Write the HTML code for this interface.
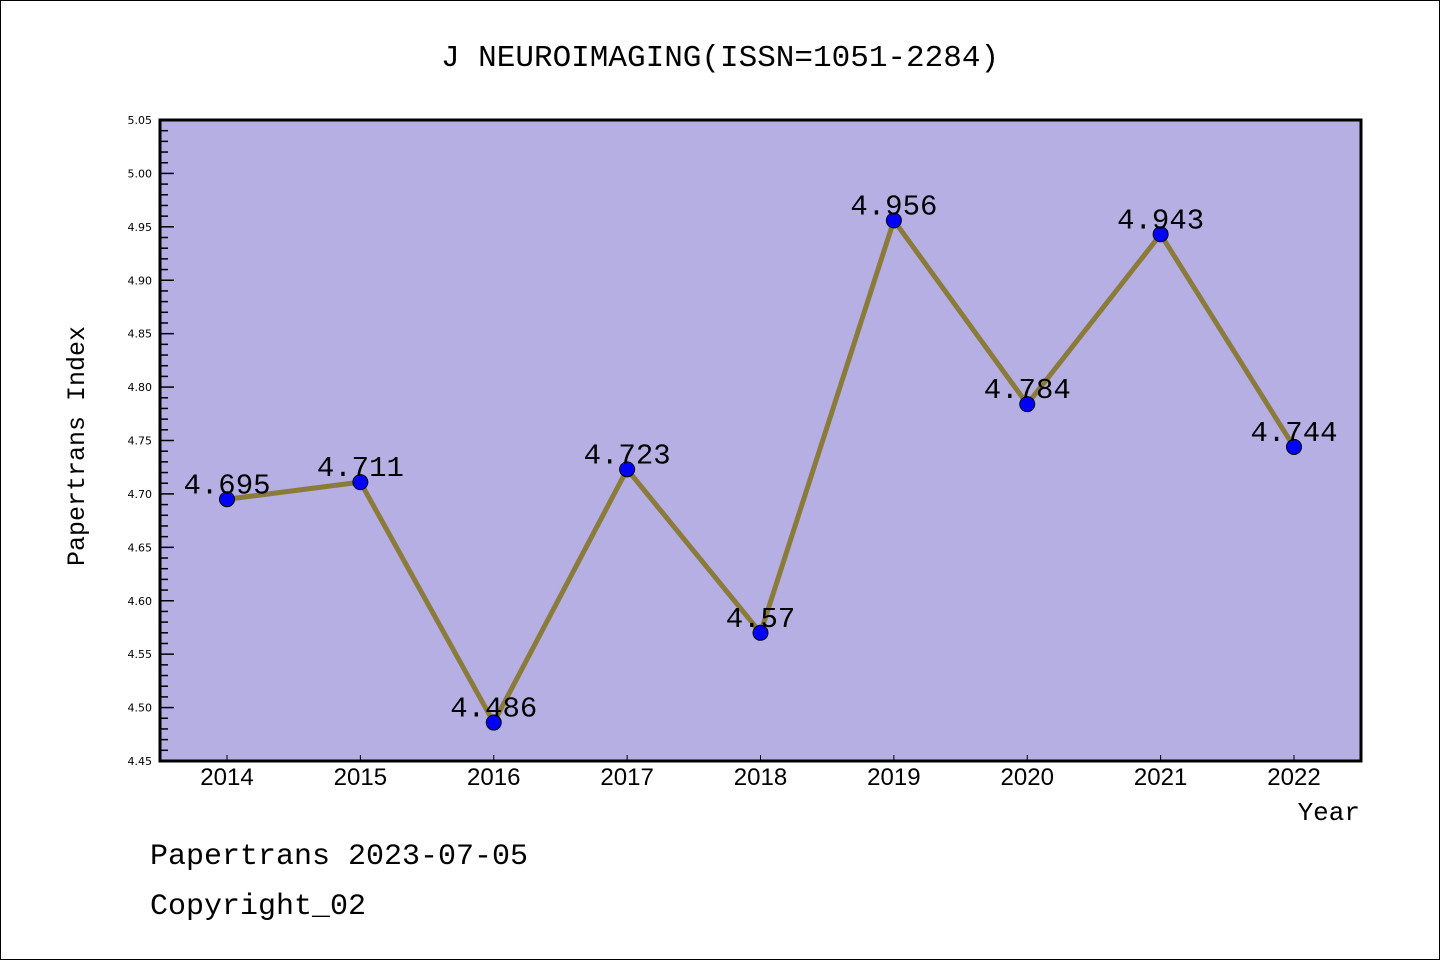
<!DOCTYPE html>
<html><head><meta charset="utf-8"><style>
html,body{margin:0;padding:0;background:#fff;}
svg{display:block;font-family:"Liberation Mono","DejaVu Sans Mono",monospace;}
</style></head><body>
<svg id="chart" width="1440" height="960" viewBox="0 0 1440 960" xmlns="http://www.w3.org/2000/svg">
<rect x="0.5" y="0.5" width="1439" height="959" fill="#fff" stroke="#000"/>
<text x="720" y="66" text-anchor="middle" font-size="31">J NEUROIMAGING(ISSN=1051-2284)</text>
<rect x="160" y="120" width="1201" height="641" fill="#B5AFE3"/>
<g id="axes"></g>
<g id="series"></g>
<rect x="160" y="120" width="1201" height="641" fill="none" stroke="#000" stroke-width="3"/>
<text transform="translate(84,446) rotate(-90)" text-anchor="middle" font-size="25">Papertrans Index</text>
<text x="1360" y="820" text-anchor="end" font-size="26">Year</text>
<text x="150" y="864" font-size="30">Papertrans 2023-07-05</text>
<text x="150" y="914" font-size="30">Copyright_02</text>
</svg>
<script>
const years = ["2014","2015","2016","2017","2018","2019","2020","2021","2022"];
const values = [4.695, 4.711, 4.486, 4.723, 4.57, 4.956, 4.784, 4.943, 4.744];
const valueLabels = ["4.695","4.711","4.486","4.723","4.57","4.956","4.784","4.943","4.744"];
const yTicks = ["4.45","4.50","4.55","4.60","4.65","4.70","4.75","4.80","4.85","4.90","4.95","5.00","5.05"];
(function(){
const NS="http://www.w3.org/2000/svg";
const yMin=4.45,yMax=5.05,plotTop=120,plotBot=761;
function yS(v){return plotBot-(v-yMin)/(yMax-yMin)*(plotBot-plotTop);}
function xS(i){return 227+i*(1294-227)/(years.length-1);}
function mk(t,a,p){const e=document.createElementNS(NS,t);for(const k in a)e.setAttribute(k,a[k]);p.appendChild(e);return e;}
const axes=document.getElementById('axes'),ser=document.getElementById('series');
for(let k=0;k<=60;k++){const v=yMin+k*0.01;const y=yS(v);const major=k%5===0;
 const t=mk('line',{x1:160,x2:major?174:168,y1:y,y2:y,stroke:'#000','stroke-width':1.5},axes);
 
 }
yTicks.forEach(s=>{const t=mk('text',{x:152,y:yS(parseFloat(s))+4,'text-anchor':'end','font-size':11,'font-family':'DejaVu Sans, sans-serif'},axes);t.textContent=s;
 
 });
years.forEach((yr,i)=>{const x=xS(i);
 const l=mk('line',{x1:x,x2:x,y1:plotBot,y2:plotBot-6,stroke:'#000','stroke-width':1},axes);
 
 
 const t=mk('text',{x:x,y:785,'text-anchor':'middle','font-size':24,'font-family':'Liberation Sans, sans-serif'},axes);t.textContent=yr;
 
 });
const pts=values.map((v,i)=>xS(i)+','+yS(v)).join(' ');
const pl=mk('polyline',{points:pts,fill:'none',stroke:'#8B7B3A','stroke-width':5,'stroke-linejoin':'round'},ser);


values.forEach((v,i)=>{const c=mk('circle',{cx:xS(i),cy:yS(v),r:7.5,fill:'#0000FF',stroke:'#000','stroke-width':1},ser);
 
 
 const t=mk('text',{x:xS(i),y:yS(v)-6,'text-anchor':'middle','font-size':29},ser);t.textContent=valueLabels[i];
 
 });
})();
</script>
</body></html>
